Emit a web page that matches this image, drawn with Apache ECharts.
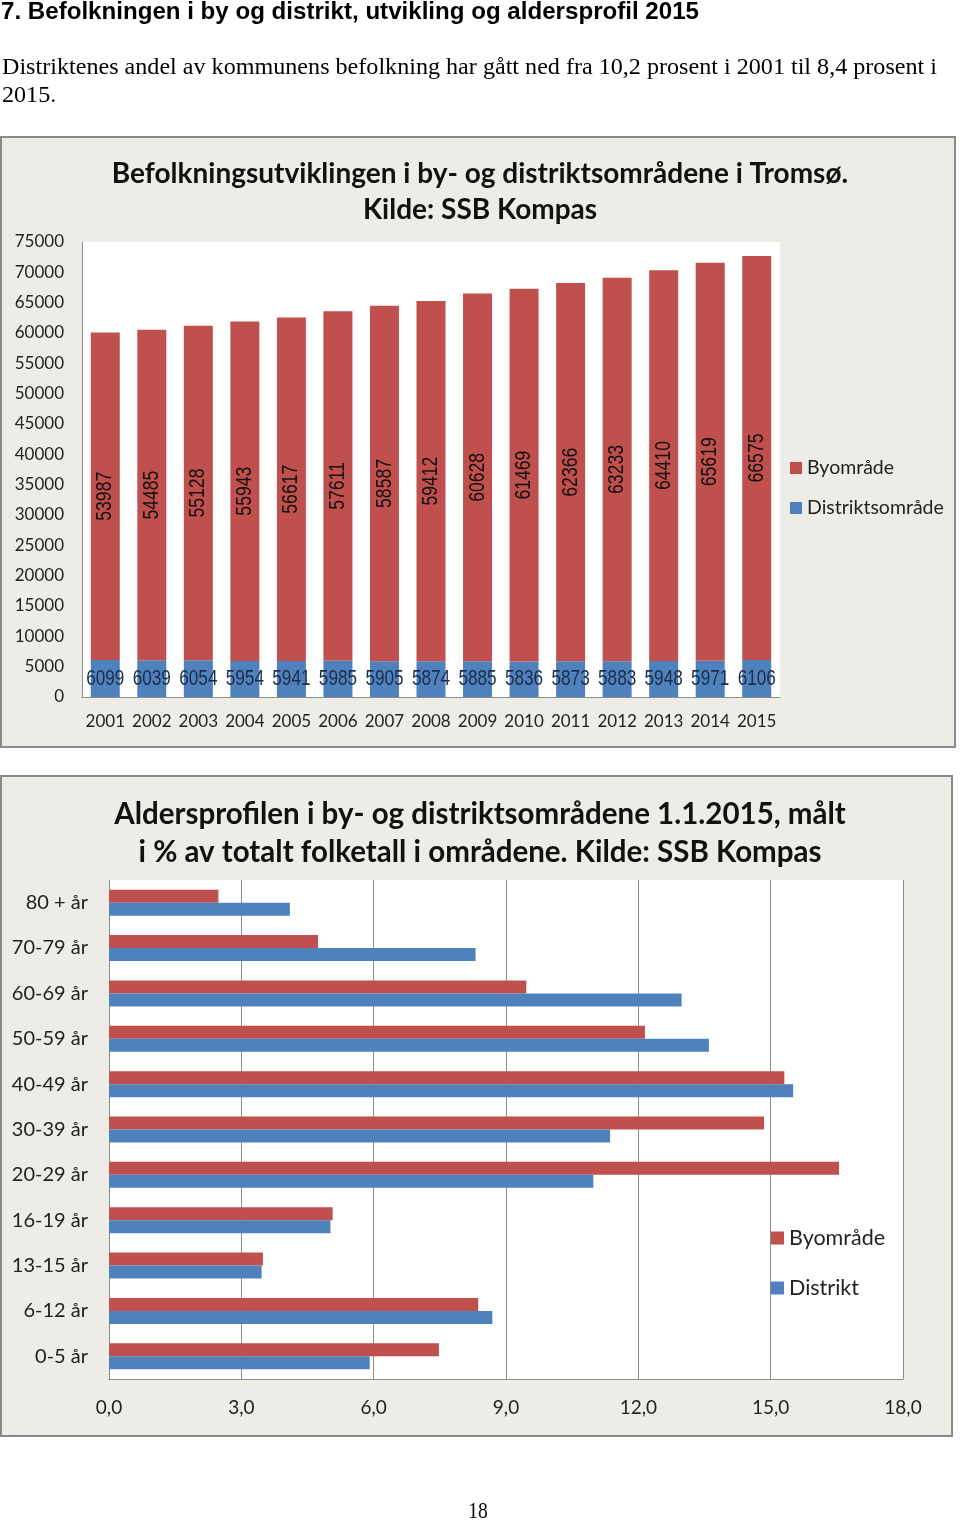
<!DOCTYPE html>
<html><head><meta charset="utf-8">
<script src="https://cdn.jsdelivr.net/npm/echarts@6/dist/echarts.min.js"></script>
<style>html,body{margin:0;padding:0;background:#fff;}#c{width:960px;height:1521px;}</style>
</head><body><div id="c"></div>
<script>
// ---- Data ----
const years = ['2001','2002','2003','2004','2005','2006','2007','2008','2009','2010','2011','2012','2013','2014','2015'];
const byomrade = [53987,54485,55128,55943,56617,57611,58587,59412,60628,61469,62366,63233,64410,65619,66575];
const distriktsomrade = [6099,6039,6054,5954,5941,5985,5905,5874,5885,5836,5873,5883,5948,5971,6106];

const ageGroups = ['0-5 år','6-12 år','13-15 år','16-19 år','20-29 år','30-39 år','40-49 år','50-59 år','60-69 år','70-79 år','80 + år'];
const ageBy = [7.48,8.37,3.49,5.07,16.55,14.85,15.31,12.15,9.46,4.74,2.48];
const ageDistrikt = [5.91,8.69,3.46,5.02,10.98,11.36,15.51,13.60,12.98,8.31,4.10];

const heading = '7. Befolkningen i by og distrikt, utvikling og aldersprofil 2015';
const paraLine1 = 'Distriktenes andel av kommunens befolkning har gått ned fra 10,2 prosent i 2001 til 8,4 prosent i';
const paraLine2 = '2015.';
const title1 = 'Befolkningsutviklingen i by- og distriktsområdene i Tromsø.\nKilde: SSB Kompas';
const title2 = 'Aldersprofilen i by- og distriktsområdene 1.1.2015, målt\ni % av totalt folketall i områdene. Kilde: SSB Kompas';

// ---- Style ----
const RED = '#C0504D', BLUE = '#4F81BD', BOX = '#EEECE6', GRID = '#8C8C8C';
const FONT = 'Lato, "Open Sans", sans-serif';
const LABEL_FONT = '"Liberation Sans", Arial, sans-serif';

function fitScale(font, text, target){
  const cv = document.createElement('canvas').getContext('2d');
  cv.font = font; return target / cv.measureText(text).width;
}
const hFont = 'bold 23px "Liberation Sans"';
const pFont = '23px "Liberation Serif"';
const hScale = fitScale(hFont, heading, 698);
const pScale = fitScale(pFont, paraLine1, 935);

const chart = echarts.init(document.getElementById('c'), null, {renderer:'canvas'});
chart.setOption({
  backgroundColor:'#fff',
  animation:false,
  graphic:[
    {type:'rect', z:-100, shape:{x:1,y:137,width:954,height:610}, style:{fill:BOX, stroke:'#8a8a8a', lineWidth:2}},
    {type:'rect', z:-100, shape:{x:1,y:776,width:951,height:660}, style:{fill:BOX, stroke:'#8a8a8a', lineWidth:2}},
    {type:'text', x:1, y:1, scaleX:hScale, style:{text:heading, font:hFont, fill:'#000', textVerticalAlign:'top'}},
    {type:'text', x:2, y:56, scaleX:pScale, style:{text:paraLine1, font:pFont, fill:'#000', textVerticalAlign:'top'}},
    {type:'text', x:2, y:84, scaleX:pScale, style:{text:paraLine2, font:pFont, fill:'#000', textVerticalAlign:'top'}},
    {type:'text', x:478, y:1500, scaleX:0.85, style:{text:'18', font:'23px "Liberation Serif"', fill:'#000', textAlign:'center', textVerticalAlign:'top'}}
  ],
  title:[
    {text:title1, left:'center', top:151, textStyle:{fontFamily:FONT, fontWeight:'bold', fontSize:28, lineHeight:36, color:'#111'}},
    {text:title2, left:'center', top:790, textStyle:{fontFamily:FONT, fontWeight:'bold', fontSize:29.5, lineHeight:38, color:'#111'}}
  ],
  legend:[
    {orient:'vertical', left:790, top:458, padding:0, itemWidth:12, itemHeight:12, itemGap:20, icon:'rect',
     data:['Byområde','Distriktsområde'], textStyle:{fontFamily:FONT, fontSize:19.5, color:'#222', lineHeight:20}},
    {orient:'vertical', left:771, top:1227, padding:0, itemWidth:13, itemHeight:13, itemGap:28, icon:'rect',
     data:['Byområde ','Distrikt'], textStyle:{fontFamily:FONT, fontSize:21.5, color:'#222', lineHeight:22}}
  ],
  grid:[
    {left:82, top:242, width:698, height:455, show:true, backgroundColor:'#fff', borderWidth:0, containLabel:false},
    {left:109, top:880, width:794, height:499, show:true, backgroundColor:'#fff', borderWidth:0, containLabel:false}
  ],
  xAxis:[
    {type:'category', gridIndex:0, data:years, axisLine:{lineStyle:{color:GRID}}, axisTick:{show:false},
     axisLabel:{fontFamily:FONT, fontSize:17, color:'#222', margin:16, interval:0}},
    {type:'value', gridIndex:1, min:0, max:18, interval:3, axisLine:{show:true, lineStyle:{color:GRID}}, axisTick:{show:false},
     splitLine:{show:true, lineStyle:{color:GRID}},
     axisLabel:{fontFamily:FONT, fontSize:19, color:'#222', margin:19, formatter:v=>v.toFixed(1).replace('.',',')}}
  ],
  yAxis:[
    {type:'value', gridIndex:0, min:0, max:75000, interval:5000, axisLine:{show:true, lineStyle:{color:GRID}}, axisTick:{show:false},
     splitLine:{show:false}, axisLabel:{fontFamily:FONT, fontSize:17, color:'#222', margin:18, formatter:v=>String(v)}},
    {type:'category', gridIndex:1, data:ageGroups, axisLine:{lineStyle:{color:GRID}}, axisTick:{show:false},
     axisLabel:{fontFamily:FONT, fontSize:20, color:'#222', margin:21, interval:0}}
  ],
  series:[
    {name:'Distriktsområde', type:'bar', stack:'a', xAxisIndex:0, yAxisIndex:0, data:distriktsomrade, barWidth:29,
     itemStyle:{color:BLUE},
     label:{show:true, position:'inside', fontFamily:LABEL_FONT, fontSize:22, color:'#1C2C48'}},
    {name:'Byområde', type:'bar', stack:'a', xAxisIndex:0, yAxisIndex:0, data:byomrade, barWidth:29,
     itemStyle:{color:RED},
     label:{show:true, position:'inside', rotate:90, fontFamily:LABEL_FONT, fontSize:22, color:'#111'}},
    {name:'Byområde ', type:'bar', xAxisIndex:1, yAxisIndex:1, data:ageBy, barWidth:13, barGap:'0%', itemStyle:{color:RED}},
    {name:'Distrikt', type:'bar', xAxisIndex:1, yAxisIndex:1, data:ageDistrikt, barWidth:13, barGap:'0%', itemStyle:{color:BLUE}}
  ]
});

// Condense the data labels horizontally (the original uses a narrow typeface)
function condense(seriesIndex, s){
  const data = chart.getModel().getSeriesByIndex(seriesIndex).getData();
  data.each(i => {
    const el = data.getItemGraphicEl(i);
    const t = el && el.getTextContent && el.getTextContent();
    if (t) { t.scaleX = s; t.dirty(); }
  });
}
condense(0, 0.78);
condense(1, 0.8);
chart.getZr().refreshImmediately();
</script></body></html>
